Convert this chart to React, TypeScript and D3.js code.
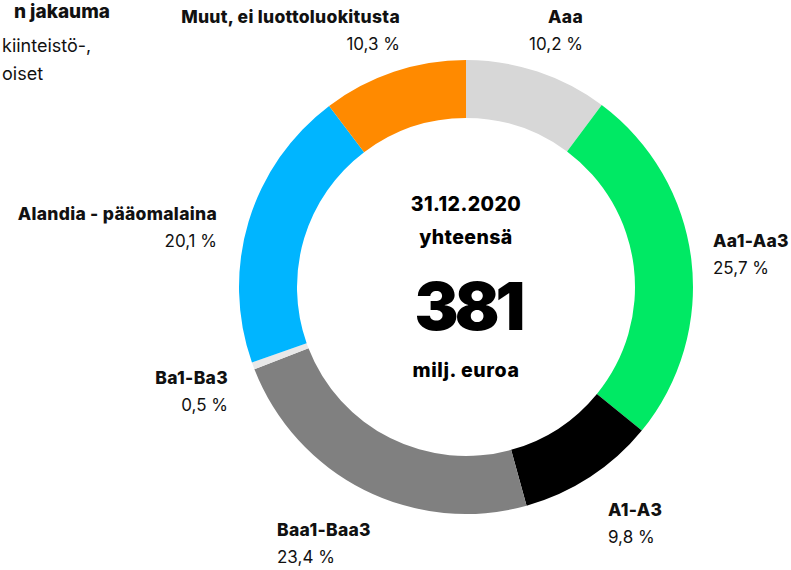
import React, { useEffect, useRef } from 'react';
import * as d3 from 'd3';

// rating categories, clockwise from 12 o'clock
const categories = ['Aaa', 'Aa1-Aa3', 'A1-A3', 'Baa1-Baa3', 'Ba1-Ba3', 'Alandia - pääomalaina', 'Muut, ei luottoluokitusta'];
const shares = [10.2, 25.7, 9.8, 23.4, 0.5, 20.1, 10.3];
const colors = ['#d7d7d7', '#00e964', '#000000', '#808080', '#e8e8e8', '#00b5ff', '#ff8a00'];
const shareLabels = ['10,2 %', '25,7 %', '9,8 %', '23,4 %', '0,5 %', '20,1 %', '10,3 %'];

// label placement: [x, y of name baseline, anchor]
const labelPos: [number, number, string][] = [
  [583, 23, 'end'],
  [713, 247, 'start'],
  [608, 516, 'start'],
  [277, 536, 'start'],
  [228, 384, 'end'],
  [217, 220, 'end'],
  [400, 23, 'end'],
];

// what is left visible of the header in the top-left corner
const headLines = ['n jakauma', 'kiinteistö-,', 'oiset'];

const centerLines = ['31.12.2020', 'yhteensä'];
const total = '381';
const unit = 'milj. euroa';

function App() {
  const ref = useRef<SVGSVGElement>(null);

  const width = 791;
  const height = 570;
  const cx = 466;
  const cy = 287;
  const outerR = 227;
  const innerR = 169;

  useEffect(() => {
    const svg = d3.select(ref.current);
    svg.selectAll('*').remove();

    const font = 'Inter, "Noto Sans", sans-serif';

    const head = svg.append('g').attr('font-family', font).attr('fill', '#111');
    head.append('text').attr('x', 110).attr('y', 18).attr('text-anchor', 'end')
      .attr('font-size', 19).attr('font-weight', 800).text(headLines[0]);
    head.append('text').attr('x', 2).attr('y', 52)
      .attr('font-size', 18).text(headLines[1]);
    head.append('text').attr('x', 2).attr('y', 80)
      .attr('font-size', 18).text(headLines[2]);

    const pie = d3.pie<number>().value(d => d).sort(null);
    const arc = d3.arc<d3.PieArcDatum<number>>().innerRadius(innerR).outerRadius(outerR);

    const g = svg.append('g').attr('transform', `translate(${cx},${cy})`);
    g.selectAll('path')
      .data(pie(shares))
      .join('path')
      .attr('d', arc)
      .attr('fill', (d, i) => colors[i]);

    const labels = svg.append('g').attr('font-family', font).attr('fill', '#111');
    categories.forEach((c, i) => {
      const [x, y, anchor] = labelPos[i];
      labels.append('text').attr('x', x).attr('y', y).attr('text-anchor', anchor)
        .attr('font-size', 17.5).attr('font-weight', 800).attr('letter-spacing', 0.3).text(c);
      labels.append('text').attr('x', x).attr('y', y + 27).attr('text-anchor', anchor)
        .attr('font-size', 17).text(shareLabels[i]);
    });

    const center = svg.append('g').attr('font-family', font).attr('fill', '#000').attr('text-anchor', 'middle');
    centerLines.forEach((t, i) => {
      center.append('text').attr('x', cx).attr('y', 211 + i * 33)
        .attr('font-size', 19.5).attr('font-weight', 800).attr('letter-spacing', 0.4).text(t);
    });
    center.append('text').attr('x', cx + 2).attr('y', 330)
      .attr('font-size', 66).attr('font-weight', 900).attr('letter-spacing', -4).text(total);
    center.append('text').attr('x', cx).attr('y', 377)
      .attr('font-size', 19.5).attr('font-weight', 800).attr('letter-spacing', 0.6).text(unit);
  }, []);

  return (
    <svg ref={ref} width={width} height={height} viewBox={`0 0 ${width} ${height}`}
      style={{ position: 'absolute', left: 0, top: 0, background: '#fff' }} />
  );
}

export default App;
